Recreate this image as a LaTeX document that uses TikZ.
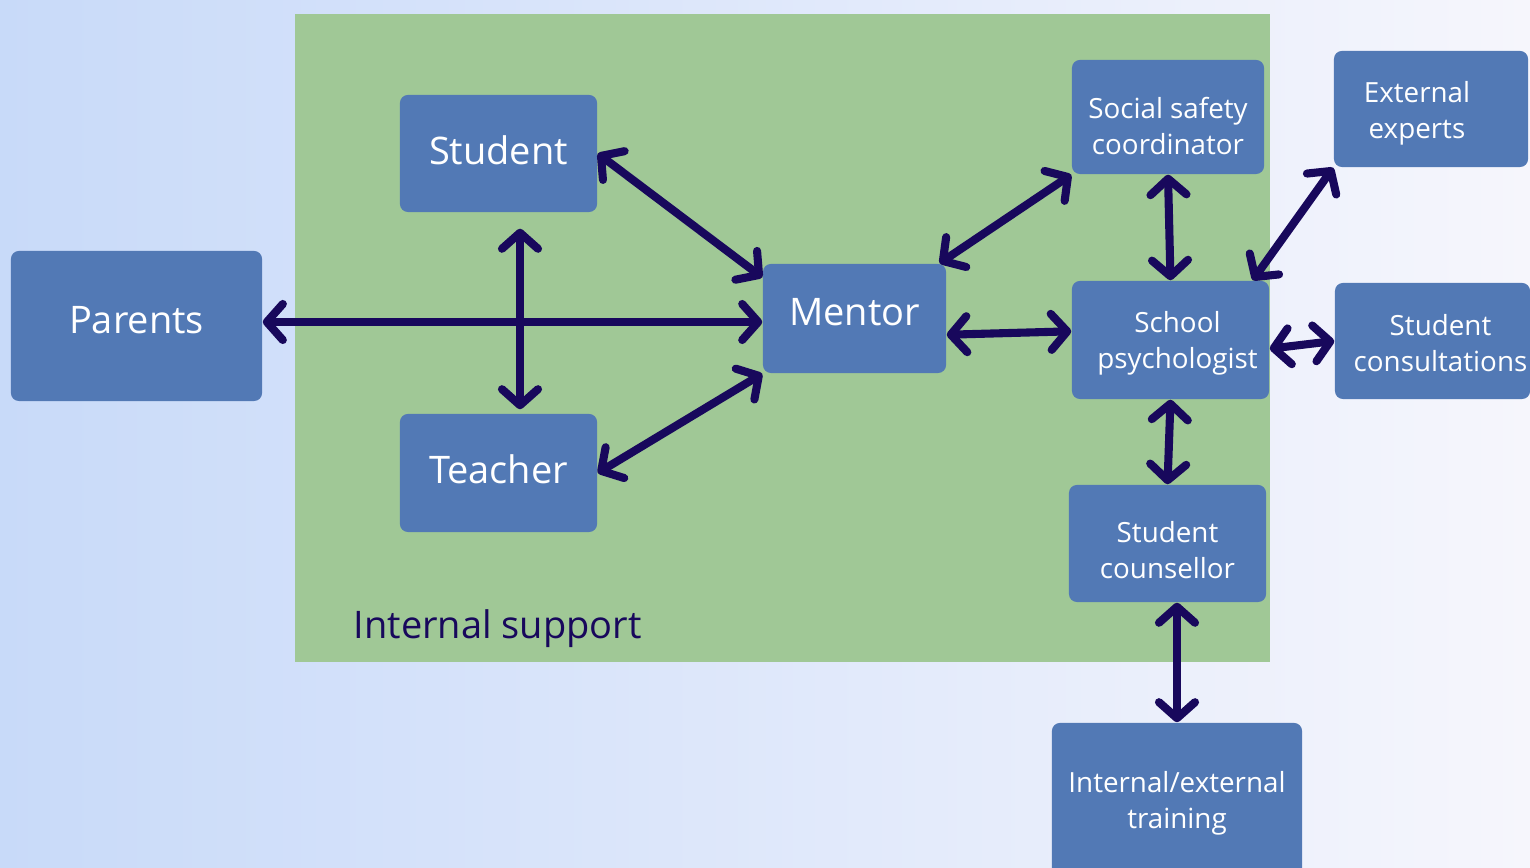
\documentclass[tikz,border=0pt]{standalone}
\usepackage{fontspec}
\setmainfont{Open Sans}
\usetikzlibrary{positioning, calc, arrows.meta}
\definecolor{bgleft}{RGB}{200,218,249}
\definecolor{bgright}{RGB}{246,246,252}
\definecolor{zonegreen}{RGB}{160,200,150}
\definecolor{boxblue}{RGB}{82,121,181}
\definecolor{arrnavy}{RGB}{24,8,92}

\begin{document}
\begin{tikzpicture}[
                x=0.01cm, y=-0.01cm,
                box/.style={fill=boxblue, rounded corners=0.08cm, inner sep=0pt},
                bigtxt/.style={text=white, align=center, inner sep=0pt, font=\fontsize{10.8}{13}\selectfont},
                smalltxt/.style={text=white, align=center, inner sep=0pt, font=\fontsize{7.9}{10.2}\selectfont},
                barb/.tip={Straight Barb[length=1.6mm, width=3.6mm, round]},
                arr/.style={barb-barb, draw=arrnavy, line width=2.3pt, line cap=round},
                zonelbl/.style={anchor=west, inner sep=0pt, text=arrnavy, font=\fontsize{10.8}{13}\selectfont},
            ]
            \useasboundingbox (0,0) rectangle (1530,868);
            \clip (0,0) rectangle (1530,868);
            \shade[left color=bgleft, right color=bgright] (0,0) rectangle (1530,868);

            % === internal support zone ===
            \fill[zonegreen] (295,14) rectangle (1270,662);
            \node[zonelbl] (internal) at (353,629) {Internal support};

            % === nodes ===
            \node[box, minimum width=1.97cm, minimum height=1.17cm,
                label={[bigtxt, yshift=0.035cm]center:Student}] (student) at (498.5,153.5) {};
            \node[box, minimum width=1.97cm, minimum height=1.18cm,
                label={[bigtxt, yshift=0.04cm]center:Teacher}] (teacher) at (498.5,473) {};
            \node[box, minimum width=2.51cm, minimum height=1.5cm,
                label={[bigtxt, yshift=0.06cm]center:Parents}] (parents) at (136.5,326) {};
            \node[box, minimum width=1.83cm, minimum height=1.09cm,
                label={[bigtxt, yshift=0.06cm]center:Mentor}] (mentor) at (854.5,318.5) {};
            \node[box, minimum width=1.92cm, minimum height=1.14cm,
                label={[smalltxt, yshift=-0.09cm]center:Social safety\\coordinator}] (safety) at (1168,117) {};
            \node[box, minimum width=1.94cm, minimum height=1.16cm,
                label={[smalltxt, xshift=-0.14cm, yshift=-0.04cm]center:External\\experts}] (experts) at (1431,109) {};
            \node[box, minimum width=1.97cm, minimum height=1.18cm,
                label={[smalltxt, xshift=0.07cm, yshift=-0.03cm]center:School\\psychologist}] (psych) at (1170.5,340) {};
            \node[box, minimum width=1.95cm, minimum height=1.16cm,
                label={[smalltxt, xshift=0.08cm, yshift=-0.02cm]center:Student\\consultations}] (consult) at (1432.5,341) {};
            \node[box, minimum width=1.97cm, minimum height=1.17cm,
                label={[smalltxt, yshift=-0.07cm]center:Student\\counsellor}] (counsellor) at (1167.5,543.5) {};
            \node[box, minimum width=2.5cm, minimum height=1.6cm,
                label={[smalltxt]center:Internal/external\\training}] (training) at (1177,803) {};

            % === connectors ===
            \draw[arr] ($(parents.east)+(0,-4)$) -- ($(mentor.west)+(0,3.5)$);
            \draw[arr] ($(student.south)+(21.5,16)$) -- ($(teacher.north)+(21.5,-4)$);
            \draw[arr] (student.east) -- (mentor.156);
            \draw[arr] (teacher.east) -- (mentor.south west);
            \draw[arr] (mentor.33) -- (safety.south west);
            \draw[arr] (mentor.-10) -- (psych.175);
            \draw[arr] (safety.south) -- (psych.north);
            \draw[arr] (psych.36) -- (experts.south west);
            \draw[arr] (psych.-5) -- (consult.west);
            \draw[arr] (psych.south) -- (counsellor.north);
            \draw[arr] (counsellor.south -| training.north) -- (training.north);
\end{tikzpicture}
\end{document}
